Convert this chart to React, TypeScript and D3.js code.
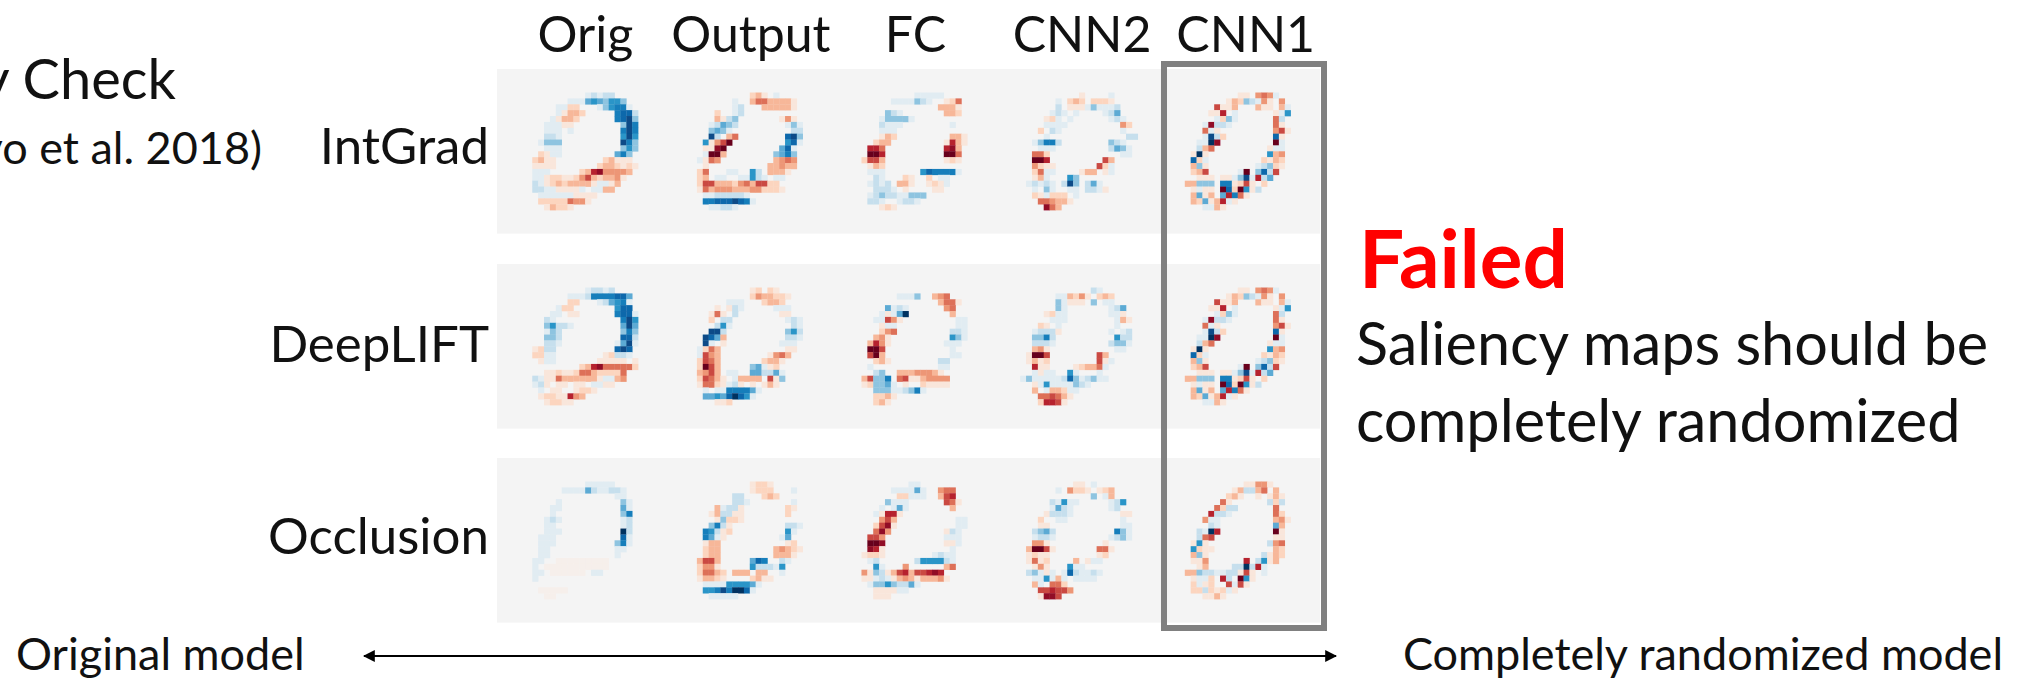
import React from "react";
import * as d3 from "d3";

const methods = ["IntGrad", "DeepLIFT", "Occlusion"];
const layers = ["Orig", "Output", "FC", "CNN2", "CNN1"];

// one char per pixel: 1-9 red strength, a-i blue strength, "," faint red
const intGradOrig = [
  "..........ababb",
  ".......aaadedceec",
  ".....aa22...aceffa",
  ".....a1332.....fggb",
  "....a1332......fghc",
  "...aaa11........chf",
  "...aaa.a........fhf",
  "...bba..........ehe",
  "..accc..........hfc",
  "...aaa..........cec",
  "..21aa.........dfc",
  ".2311........23111",
  ".1111.......2332121",
  ".aaa.....237844443",
  ".aa12211246323341",
  ".ba123233331aa13",
  ".bbaa1111a.aa33",
  "..aaaaaa1111",
  "..222225441",
  "...13221",
];
const intGradOutput = [
  "..........231.a",
  ".......a..35533331",
  ".......ab...333331",
  "....2..ab",
  "....31bc.......141",
  "...abdcb........aca",
  "...cdca..........bb",
  "...hb.35........ghc",
  "..e1469.........ega",
  "..1189.........dga",
  "..a993........cdfc",
  ".a154.........3454",
  "..1..........33433",
  ".25...aa..eb.3331",
  ".23.aa..aaeba.aa",
  ".26633324536622",
  ".153444333442221",
  "..aabbbbba",
  "..ffggghgfa",
  "...aabba",
];
const intGradFC = [
  "..........aaaaa",
  "......aaaacba..125",
  "..............3331",
  ".....cba.......332",
  "....acccca",
  "....baaa........a",
  "....aaa",
  "....132.........331",
  "...233.........1731",
  "..775..........783",
  "..997..........995",
  ".2663..........121",
  "..132",
  "..aaa......egffffa",
  "...ba...21..2.aa",
  "..abab.331..121a",
  "...bbba.1....11",
  "..abcbbaaccc",
  "..bba..abba",
  "....121",
];
const intGradCNN2 = [
  "..........1....a",
  "......a.232.2221",
  "......b.111acaaab",
  ".....aba.a....abd",
  "....12a.a......aba",
  "....aaaa.........42",
  "...2.ba..........a",
  "....a.............bb",
  "..acffb........cba",
  "...aaa.........bdca",
  "..552............aa",
  "..997.........63",
  "..4211.......62a",
  "..25aa....133.1a",
  "..13a...ec",
  ".ababa.bhc.bda",
  "..a.ca..aa.bba1",
  "..21a222.a",
  "...554331",
  "....853",
];
const intGradCNN1 = [
  ".........11.454a",
  ".......132cba41.4",
  ".....6113...311.3a",
  "....117.a......1ae",
  ".....a2ca......5b",
  "...a8bba.......51",
  "...5a1.........461",
  "...ahb2........g1",
  "..aai8.........9a",
  "..b35.........1aa",
  ".1i1..........e34",
  ".g2a.........2132",
  ".3c1........abc21",
  ".236.....a9.cgb6",
  "..111.11acha7bd",
  "33ccc.ff1261.2",
  ".1a11.9g29e1b",
  ".3d13.d7f51",
  ".32d137a1",
  "...aa31",
];
const deepLiftOrig = [
  "..........abbab",
  ".......aaabffffggd",
  ".......22...abdefa",
  ".....a22.......egg",
  "....aa.11......fgga",
  "...ba...........fhe",
  "...cebba........dhd",
  "...acb..........cfc",
  "...ccb..........ggb",
  "...bba.........adha",
  ".12bb..........ghg",
  ".22aa........12bba",
  "..1aa.......11111.1",
  ".........2378555552",
  "...11211255322225",
  ".ba1153333331aa34",
  ".ab1.11.11.aa11",
  "..a.11..1221",
  "..12211743",
  "...12211",
];
const deepLiftOutput = [
  "..........12.21",
  "..........2433221",
  "......aaa...2332",
  "....1.1ba.....aaa",
  "...151.b.......11",
  "...2.bb.........aba",
  "....bea..........ba",
  "...hhb..........ceb",
  "..hgd3..........bba",
  "..ha.1.........aaa",
  ".a253...........11",
  ".a643........1453",
  ".2653.......2331",
  ".2963.....cda12",
  ".3463.aa..ddbbda",
  ".26531.a3333.61c",
  ".15521ab1.1.131",
  "..a.aaffffda",
  "..ddedgigea",
  "....112",
];
const deepLiftFC = [
  "",
  ".......aaac..345",
  "..............3551",
  ".....daba......45",
  "....a1adi.......3",
  "...aa641.........aa",
  "....1aa..........aa",
  "....245.........bba",
  "...341..........eca",
  "..3741.........aaa",
  "..996...........a",
  "..693...........aa",
  "...231........bb",
  "..a...........aa",
  "...bc..33344431",
  ".36ccf.561134444",
  ".12ccda.1..21111",
  "...cccaabcfa",
  "...2231",
  "...231",
];
const deepLiftCNN2 = [
  "............ba",
  "......aa3241.232",
  "......ca111.c.aa",
  "......ca.......abd",
  "....12aa.......aa1",
  ".....aaa........a31",
  "...21.a.........a",
  "..abbb1........a.ab",
  "..ccfb..........ebb",
  "..bbba.........bcca",
  "..341...........aa",
  ".1996........63",
  ".1312........61a",
  "..711....12335a",
  "..a1aa..ea...a",
  "acaaaaabgcabcaa",
  "..1aeaaaacba",
  "..3.a332aa",
  "...556531",
  "...27761",
];
const deepLiftCNN1 = [
  ".........11.454a",
  ".......132cba41.4",
  ".....6113...311.3a",
  "....117.a......1ae",
  ".....a2ca......5b",
  "...a8bba.......51",
  "...5a1.........461",
  "...ahb2........g1",
  "..aai8.........9a",
  "..b35.........1aa",
  ".1i1..........e34",
  ".g2a.........2132",
  ".3c1........abc21",
  ".236.....a9.cgb6",
  "..111.11acha7bd",
  "33ccc.ff1261.2",
  ".1a11.9g29e1b",
  ".3d13.d7f51",
  ".32d137a1",
  "...aa31",
];
const occlusionOrig = [
  "..........aaaaa",
  "......aaaadbaabba",
  "...............aa",
  ".....a..........ca",
  "....aa..........da",
  "....a...........cf",
  "...aba..........ab",
  "...aa...........ab",
  "...aaa..........ib",
  "..aaa...........ga",
  "..aaa..........cfa",
  "..aa...........aa",
  "..aa...........a",
  ".aa..,,,,,,,,,",
  ".a.,,,,,,,,,,,",
  ".aa.,,,,,,.aa",
  ".a",
  "",
  "..,,,,,",
  "...,,",
];
const occlusionOutput = [
  "..........1221",
  "..........1222...a",
  ".......bb...232",
  ".......bba.......a",
  "....3abb1.......21",
  "...13bb11.......2",
  "....1c221",
  "...cfb1.........bba",
  "..feb12.........ea",
  "..fda1.........ad",
  "..133...........12",
  "..233.........34321",
  "..233.........3331",
  ".3663.....dgf..ba",
  ".2441.....ebbbae",
  ".25532.333.33..a",
  ".13321....2311",
  "..aaaaeeeeda",
  "..eefhfiiga",
  "...aaaaa",
];
const occlusionFC = [
  ".........aa",
  "......aaaada..455",
  ".......22aaa..367",
  ".....caaa......651",
  "....a.ada.......3",
  "...a1771",
  "....463..........aa",
  "...2681..........aa",
  "...584.........1ba",
  "..664..........aaa",
  "..998..........11a",
  "..871...........a",
  ".1221........abaa",
  "..ab......beeeeba",
  "...ea...4......35",
  ".41cb1367366787",
  ".11aba1343133341",
  "..accecbbda",
  "...1111aa",
  "...111",
];
const occlusionCNN2 = [
  ".........11.a",
  "......a.4221.123",
  "............c.a3",
  ".....baeaa.....abe",
  ".....adba......ab",
  "....1bbba........11",
  "...2..aa.........a",
  "...11............aa",
  "..bcdb..........fca",
  "..abba.........abca",
  "..441.........1",
  ".39961.......551",
  ".1211........12",
  ".1512....3.1aa",
  "..141...eaa",
  ".bca1a.agbaaba",
  "..aaea3a.aaaa",
  "..3a.552",
  "...667664",
  "...1886",
];
const occlusionCNN1 = [
  "..........11441",
  "........13bb35.3",
  ".......231..1.131",
  "......51......b2b",
  ".....52bb......5",
  "....7bba.......52",
  "...4aa.........341",
  "....ba.........d3",
  "..bai7.........91",
  "..b56..........11",
  ".1e1..........b45",
  ".e211..........32",
  ".3c1.........b132",
  ".114......7.be13",
  "..13....bbib7a",
  "33cbbaabb161.a",
  ".1aa2.7b.9e1",
  ".2a12..6a61",
  ".22b212a1",
  "...1131",
];

const mapRows = [
  [intGradOrig, intGradOutput, intGradFC, intGradCNN2, intGradCNN1],
  [deepLiftOrig, deepLiftOutput, deepLiftFC, deepLiftCNN2, deepLiftCNN1],
  [occlusionOrig, occlusionOutput, occlusionFC, occlusionCNN2, occlusionCNN1],
];

const W = 2029;
const H = 679;
const gridSize = 28;
const firstPixel = 5; // cropped strings start at this column
const firstLine = 4;
const rowTops = [69, 264, 458];
const labelBaselines = [164, 362, 554];
const headerShift = [6, 7, 7, 9, 8];

const colorStops = [-1, -0.8, -0.6, -0.4, -0.2, 0, 0.2, 0.4, 0.6, 0.8, 1];
const colorValues = ["#053061", "#0a62a8", "#1a8cc4", "#6db3d8", "#d1e5f0", "#f4f4f4", "#fddbc7", "#f4a582", "#d6604d", "#b2182b", "#67001f"];

function charValue(ch: string) {
  if (ch === ",") return 0.04;
  if (ch >= "1" && ch <= "9") return +ch / 9;
  const k = "abcdefghi".indexOf(ch);
  return k >= 0 ? -(k + 1) / 9 : 0;
}

const Heatmap = ({ rows, x, y, size, color }) => {
  const pos = d3.scaleLinear().domain([0, gridSize]).range([0, size]);
  const cell = pos(1) - pos(0);
  return (
    <g transform={`translate(${x},${y})`} filter="url(#soften)">
      {rows.map((row, r) =>
        row.split("").map((ch, c) => {
          const v = charValue(ch);
          if (!v) return null;
          return (
            <rect
              key={`${r}-${c}`}
              x={pos(c + firstPixel)}
              y={pos(r + firstLine)}
              width={cell + 0.3}
              height={cell + 0.3}
              fill={color(v)}
            />
          );
        })
      )}
    </g>
  );
};

export default function App() {
  const xBand = d3.scaleBand().domain(layers).range([497, 1320]);
  const color = d3.scaleLinear<string>().domain(colorStops).range(colorValues);
  const font = "Lato, 'Open Sans', sans-serif";

  return (
    <svg
      width={W}
      height={H}
      viewBox={`0 0 ${W} ${H}`}
      style={{ position: "absolute", left: 0, top: 0, display: "block", background: "#fff" }}
      fontFamily={font}
      fill="#111"
    >
      <defs>
        <filter id="soften" x="-5%" y="-5%" width="110%" height="110%">
          <feGaussianBlur stdDeviation="0.75" />
        </filter>
        <marker id="head" viewBox="0 0 10 10" refX="9" refY="5" markerWidth="12" markerHeight="14" markerUnits="userSpaceOnUse" orient="auto-start-reverse">
          <path d="M0,0L10,5L0,10Z" fill="#000" />
        </marker>
      </defs>

      {rowTops.map(t => (
        <rect key={t} x={xBand.range()[0]} y={t} width={xBand.range()[1] - xBand.range()[0]} height={xBand.bandwidth()} fill={color(0)} />
      ))}
      {mapRows.map((maps, i) =>
        maps.map((rows, j) => (
          <Heatmap key={`${i}-${j}`} rows={rows} x={xBand(layers[j])} y={rowTops[i]} size={xBand.bandwidth()} color={color} />
        ))
      )}

      {layers.map((l, j) => (
        <text key={l} x={xBand(l) + xBand.bandwidth() / 2 + headerShift[j]} y={52} fontSize={50} textAnchor="middle">
          {l}
        </text>
      ))}
      {methods.map((m, i) => (
        <text key={m} x={489} y={labelBaselines[i]} fontSize={51} textAnchor="end">
          {m}
        </text>
      ))}

      <rect x={1164} y={64} width={160} height={564} fill="none" stroke="#808080" strokeWidth={6} />

      <text x={176} y={99} fontSize={56} textAnchor="end">y Check</text>
      <text x={262} y={164} fontSize={45} textAnchor="end">yo et al. 2018)</text>

      <text x={1359} y={288} fontSize={80} fontWeight={700} fill="#ff0000">Failed</text>
      <text x={1356} y={365} fontSize={59.4}>Saliency maps should be</text>
      <text x={1356} y={442} fontSize={59.4}>completely randomized</text>

      <text x={16} y={670} fontSize={45}>Original model</text>
      <text x={2003} y={670} fontSize={45} textAnchor="end">Completely randomized model</text>
      <line x1={364} y1={656} x2={1336} y2={656} stroke="#000" strokeWidth={2} markerStart="url(#head)" markerEnd="url(#head)" />
    </svg>
  );
}
